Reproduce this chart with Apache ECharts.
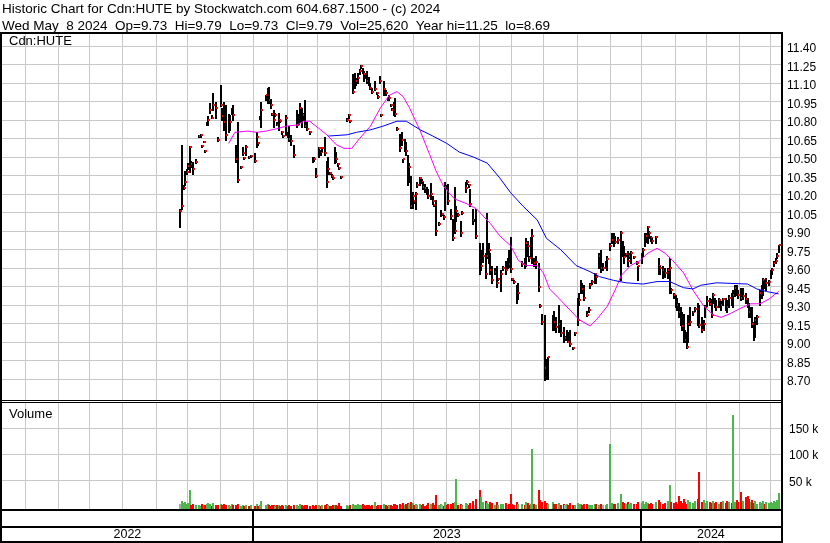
<!DOCTYPE html>
<html><head><meta charset="utf-8">
<script src="https://cdn.jsdelivr.net/npm/echarts@6/dist/echarts.min.js"></script>
<style>html,body{margin:0;padding:0;background:#fff}#c{width:830px;height:543px}</style>
</head><body><div id="c"></div>
<script>
// ---- data (trading-day index from the left edge of the chart) ----
const TOTAL_DAYS = 500;
const START = 114; // first trading day with data
const highs = [
10.08,10.60,10.27,10.39,10.40,10.45,10.59,10.47,10.46,null,
10.48,null,10.68,10.69,10.60,10.63,10.56,10.78,10.83,10.94,
10.84,11.02,null,10.95,10.66,null,11.08,10.90,10.95,10.92,
null,10.85,10.84,10.90,10.92,null,10.60,10.78,null,10.43,
10.58,10.50,10.60,null,10.51,10.52,null,null,10.53,10.70,
10.62,10.83,10.95,null,null,11.00,11.06,11.07,10.97,10.86,
10.88,10.86,10.78,10.86,10.80,10.71,10.68,null,10.84,10.70,
10.75,10.68,null,10.60,null,10.88,10.85,10.94,10.90,10.86,
10.96,10.78,null,10.71,null,10.50,10.50,10.41,null,10.58,
10.56,10.58,null,10.66,10.47,10.50,10.38,10.36,10.34,10.58,
10.54,10.45,10.42,10.35,null,null,null,10.82,10.85,10.80,
null,11.17,11.18,11.14,11.18,11.21,11.25,11.22,11.20,11.18,
11.20,11.15,11.10,11.06,null,11.12,11.03,11.00,11.16,10.85,
null,11.12,11.04,10.98,11.00,10.93,10.90,10.95,10.98,10.74,
null,10.69,10.70,10.48,10.65,10.62,10.52,10.45,10.35,10.22,
10.15,10.22,10.30,null,10.34,10.32,10.30,10.28,10.26,10.24,
null,10.29,10.18,10.12,10.15,null,9.97,10.07,10.05,10.03,
10.30,10.27,10.28,null,10.08,10.00,10.26,10.10,10.05,null,
9.98,10.06,null,10.30,10.31,10.28,10.24,null,10.08,10.00,
10.08,null,9.80,9.75,9.80,null,9.72,10.05,9.80,9.72,
9.62,null,9.60,9.62,9.52,null,9.58,9.62,null,9.66,
9.68,9.75,9.85,9.52,9.50,null,9.46,9.48,null,9.66,
null,9.68,9.84,9.82,9.70,9.85,9.92,9.68,9.70,null,
9.64,9.31,9.23,null,9.22,8.86,8.88,null,null,9.22,
9.25,9.20,null,9.30,9.18,null,9.12,9.05,9.10,9.08,
9.10,null,8.96,9.08,null,9.36,9.40,9.50,9.48,9.46,
null,9.25,9.28,9.48,9.50,null,9.56,9.54,null,9.72,
9.75,9.64,null,9.66,9.70,null,9.80,9.88,9.88,9.86,
null,9.85,null,9.90,9.82,9.78,9.72,9.74,9.72,9.74,
null,9.70,null,9.66,9.62,null,9.72,9.76,9.88,9.88,
9.94,9.90,9.86,9.84,null,9.86,null,9.68,9.62,null,
9.62,9.60,null,9.60,9.68,9.44,null,9.40,9.38,9.36,
9.32,9.28,9.24,9.23,9.10,9.08,9.22,9.28,null,9.25,
9.28,null,9.32,9.30,null,9.20,9.18,9.30,9.37,null,
9.36,9.35,9.40,9.36,9.34,null,9.36,9.33,9.36,null,
9.36,9.34,9.38,null,9.40,9.42,9.46,9.46,9.42,null,
9.44,9.44,null,9.40,9.36,9.32,9.28,9.28,9.16,9.20,
9.22,null,9.42,9.46,9.52,9.50,9.52,null,9.50,9.58,
9.60,9.66,9.68,9.72,9.79];
const lows = [
9.93,10.08,10.24,10.27,10.36,10.40,10.38,10.42,10.36,null,
10.45,null,10.66,10.66,10.58,10.62,10.54,10.76,10.76,10.86,
10.82,10.88,null,10.82,10.63,null,10.91,10.80,10.72,10.64,
null,10.70,10.72,10.85,10.80,null,10.46,10.30,null,10.41,
10.52,10.48,10.52,null,10.49,10.50,null,null,10.46,10.58,
10.60,10.81,10.74,null,null,10.96,10.94,10.94,10.90,10.84,
10.74,10.83,10.76,10.72,10.78,10.69,10.66,null,10.68,10.66,
10.63,10.60,null,10.50,null,10.74,10.77,10.78,10.74,10.80,
10.74,10.72,null,10.69,null,10.46,10.47,10.34,null,10.50,
10.52,10.55,null,10.52,10.26,10.36,10.36,10.34,10.32,10.45,
10.46,10.43,10.40,10.33,null,null,null,10.79,10.82,10.78,
null,11.02,11.06,11.08,11.10,11.17,11.22,11.18,11.12,11.14,
11.10,11.08,11.05,11.02,null,11.04,11.01,10.98,11.10,10.83,
null,11.00,11.00,10.96,10.96,10.91,10.88,10.84,10.83,10.72,
null,10.55,10.60,10.46,10.55,10.52,10.27,10.30,10.09,10.09,
10.13,10.08,10.26,null,10.27,10.29,10.24,10.22,10.20,10.17,
null,10.16,10.12,10.10,9.87,null,9.95,10.02,10.03,10.00,
10.07,10.24,10.12,null,10.00,9.83,9.88,9.98,10.02,null,
9.86,10.04,null,10.22,10.28,10.26,10.10,null,9.96,9.98,
9.84,null,9.55,9.58,9.65,null,9.52,9.68,9.64,9.55,
9.48,null,9.55,9.45,9.50,null,9.41,9.58,null,9.55,
9.60,9.61,9.57,9.50,9.48,null,9.32,9.35,null,9.62,
null,9.60,9.62,9.70,9.66,9.70,9.64,9.62,9.60,null,
9.41,9.28,9.15,null,8.69,8.70,8.70,null,null,9.10,
9.10,9.08,null,9.08,9.05,null,9.00,9.02,9.02,9.00,
8.97,null,8.94,9.06,null,9.14,9.30,9.40,9.40,9.34,
null,9.21,9.24,9.44,9.47,null,9.48,9.48,null,9.60,
9.57,9.58,null,9.60,9.58,null,9.75,9.80,9.78,9.80,
null,9.80,null,9.50,9.70,9.64,9.70,9.62,9.68,9.64,
null,9.68,null,9.63,9.50,null,9.64,9.70,9.78,9.81,
9.80,9.84,9.82,9.80,null,9.80,null,9.55,9.55,null,
9.52,9.53,null,9.52,9.40,9.40,null,9.36,9.28,9.26,
9.20,9.14,9.10,9.00,9.00,8.95,9.00,9.14,null,9.22,
9.25,null,9.14,9.12,null,9.08,9.10,9.20,9.29,null,
9.30,9.20,9.32,9.28,9.26,null,9.28,9.26,9.30,null,
9.26,9.24,9.28,null,9.30,9.28,9.37,9.38,9.36,null,
9.34,9.35,null,9.32,9.28,9.20,9.20,9.12,9.02,9.04,
9.15,null,9.30,9.36,9.38,9.44,9.42,null,9.46,9.52,
9.55,9.62,9.64,9.68,9.73];
const closes = [
10.06,10.10,10.25,10.30,10.38,10.43,10.58,10.44,10.40,null,
10.46,null,10.67,10.68,10.59,10.62,10.55,10.77,10.80,10.88,
10.82,10.92,null,10.90,10.64,null,10.92,10.83,10.78,10.68,
null,10.72,10.78,10.88,10.84,null,10.48,10.31,null,10.42,
10.53,10.49,10.58,null,10.50,10.51,null,null,10.47,10.66,
10.61,10.82,10.88,null,null,11.00,11.05,10.96,10.92,10.85,
10.80,10.84,10.76,10.80,10.79,10.70,10.67,null,10.82,10.67,
10.65,10.63,null,10.52,null,10.76,10.78,10.90,10.85,10.84,
10.75,10.73,null,10.70,null,10.49,10.48,10.35,null,10.57,
10.54,10.57,null,10.53,10.30,10.40,10.37,10.35,10.33,10.50,
10.48,10.44,10.41,10.34,null,null,null,10.80,10.84,10.79,
null,11.03,11.10,11.12,11.14,11.20,11.24,11.19,11.17,11.15,
11.12,11.09,11.06,11.03,null,11.05,11.02,10.99,11.12,10.84,
null,11.05,11.02,10.97,10.98,10.92,10.88,10.86,10.85,10.73,
null,10.57,10.64,10.48,10.58,10.55,10.30,10.42,10.10,10.18,
10.14,10.20,10.27,null,10.33,10.30,10.26,10.25,10.22,10.18,
null,10.20,10.14,10.11,9.90,null,9.96,10.04,10.04,10.01,
10.26,10.25,10.14,null,10.02,9.84,9.90,10.06,10.03,null,
9.88,10.05,null,10.25,10.30,10.27,10.12,null,9.99,9.99,
9.86,null,9.60,9.62,9.70,null,9.55,9.70,9.75,9.58,
9.50,null,9.57,9.48,9.51,null,9.55,9.60,null,9.58,
9.66,9.63,9.59,9.51,9.49,null,9.38,9.40,null,9.63,
null,9.62,9.80,9.78,9.68,9.72,9.86,9.64,9.65,null,
9.45,9.29,9.16,null,8.79,8.70,8.88,null,null,9.18,
9.16,9.12,null,9.15,9.07,null,9.03,9.03,9.05,9.00,
8.98,null,8.95,9.07,null,9.18,9.34,9.45,9.43,9.36,
null,9.22,9.26,9.46,9.49,null,9.55,9.53,null,9.70,
9.60,9.60,null,9.64,9.67,null,9.78,9.83,9.82,9.81,
null,9.83,null,9.88,9.72,9.69,9.71,9.66,9.70,9.72,
null,9.69,null,9.64,9.62,null,9.70,9.75,9.85,9.86,
9.93,9.88,9.84,9.82,null,9.85,null,9.62,9.60,null,
9.58,9.56,null,9.58,9.60,9.42,null,9.38,9.34,9.30,
9.24,9.18,9.13,9.06,9.02,8.96,9.15,9.16,null,9.24,
9.27,null,9.24,9.14,null,9.10,9.15,9.28,9.33,null,
9.31,9.22,9.38,9.30,9.28,null,9.34,9.30,9.35,null,
9.32,9.28,9.36,null,9.35,9.38,9.44,9.40,9.38,null,
9.36,9.37,null,9.35,9.30,9.24,9.26,9.15,9.05,9.18,
9.20,null,9.40,9.44,9.50,9.46,9.48,null,9.49,9.56,
9.58,9.64,9.66,9.70,9.79];
const volumeK = [
6,12,8,10,5,7,32,4,6,null,
3,null,4,2,5,3,4,6,8,5,
2,7,null,4,3,null,6,3,5,4,
null,3,2,5,4,null,3,6,null,2,
3,2,4,null,2,3,null,null,2,5,
2,4,11,null,null,3,6,4,2,3,
3,2,4,3,2,3,2,null,4,2,
3,2,null,4,null,3,2,5,3,2,
4,3,null,2,null,3,2,4,null,3,
2,3,null,4,5,3,2,2,3,4,
3,2,8,2,null,null,null,3,2,4,
null,5,4,3,6,3,4,5,3,2,
4,3,2,3,null,10,2,3,4,3,
null,5,3,2,4,3,2,5,6,4,
null,5,4,7,3,5,8,6,9,7,
3,5,4,null,6,3,5,2,4,7,
null,6,8,4,23,null,3,5,4,2,
9,4,6,null,5,7,10,53,3,null,
6,4,null,8,5,3,7,null,12,4,
15,null,32,18,9,null,12,8,6,10,
7,null,4,9,3,null,6,5,null,8,
4,6,25,5,3,null,10,6,null,5,
null,4,9,7,3,5,111,6,4,null,
32,14,10,null,12,8,6,null,null,9,
6,5,null,8,4,null,6,3,5,4,
7,null,3,4,null,8,6,5,4,6,
null,5,3,4,3,null,6,5,null,4,
5,3,null,4,5,null,120,8,6,5,
null,7,null,24,10,8,6,9,5,7,
null,5,null,6,9,null,8,12,6,10,
7,5,8,6,null,10,null,14,9,null,
6,8,null,12,41,10,null,7,9,6,
20,12,8,15,10,6,14,9,null,7,
11,null,16,67,null,9,14,8,12,null,
10,7,12,8,10,null,6,9,11,null,
7,12,9,null,8,175,10,14,9,null,
29,12,null,18,20,15,10,14,8,11,
6,null,10,8,12,6,9,null,7,10,
8,12,9,14,25.62];
const maShortDays = [145,149,157,163,169,176,182,189,193,197,201,208,214,219,224,229,236,242,248,253,257,261,268,274,278,283,290,298,304,313,319,326,331,336,343,347,351,358,364,370,377,381,388,393,397,403,409,414,420,425,430,437,443,450,456,461,467,473,480,486,492,498];
const maShort = [10.61,10.70,10.71,10.70,10.71,10.73,10.75,10.76,10.79,10.79,10.75,10.68,10.60,10.57,10.57,10.65,10.75,10.89,11.00,11.03,10.99,10.90,10.71,10.52,10.39,10.26,10.16,10.12,10.08,9.96,9.86,9.78,9.66,9.62,9.62,9.56,9.43,9.34,9.26,9.18,9.13,9.18,9.29,9.42,9.54,9.62,9.66,9.72,9.76,9.72,9.66,9.56,9.42,9.29,9.22,9.20,9.23,9.27,9.31,9.31,9.35,9.41];
const maLongDays = [209,221,227,236,244,253,259,268,276,285,293,302,311,319,326,334,343,349,358,368,377,383,392,400,411,420,428,437,443,448,458,478,484,490,498];
const maLong = [10.67,10.68,10.70,10.72,10.75,10.79,10.79,10.72,10.67,10.61,10.54,10.50,10.45,10.33,10.21,10.10,9.99,9.84,9.75,9.62,9.57,9.53,9.50,9.48,9.47,9.49,9.49,9.44,9.43,9.46,9.48,9.47,9.43,9.41,9.39];
const monthStarts = [15,36,56,77,99,119,140,161,183,202,223,243,264,285,306,327,347,369,390,410,432,452,473,493];
const yearStarts = [0,161,410];
const yearLabels = ['2022','2023','2024'];
const priceMin = 8.70, priceMax = 11.40, priceStep = 0.15;
const volMax = 150, volStep = 50;
const titleLine1 = 'Historic Chart for Cdn:HUTE by Stockwatch.com 604.687.1500 - (c) 2024';
const titleLine2 = 'Wed May  8 2024  Op=9.73  Hi=9.79  Lo=9.73  Cl=9.79  Vol=25,620  Year hi=11.25  lo=8.69';

// ---- build ----
const FF = "'Liberation Sans', Arial, sans-serif";
const hlcData = [], volData = [];
let prev = null;
for (let k = 0; k < highs.length; k++) {
  const d = START + k + 0.5;
  if (highs[k] != null) hlcData.push([d, highs[k], lows[k], closes[k]]);
  if (volumeK[k] != null && closes[k] != null) {
    const dir = prev == null ? 0 : (closes[k] > prev ? 1 : (closes[k] < prev ? -1 : 0));
    volData.push([d, volumeK[k], dir]);
  }
  if (closes[k] != null) prev = closes[k];
}
const maShortData = maShortDays.map((d, i) => [d + 0.5, maShort[i]]);
const maLongData = maLongDays.map((d, i) => [d + 0.5, maLong[i]]);
const yearData = yearStarts.map((s, i) => [s, i < yearStarts.length - 1 ? yearStarts[i + 1] : TOTAL_DAYS, i]);

function vline(color, width) {
  return function (params, api) {
    const cs = params.coordSys;
    const x = api.coord([api.value(0), 0])[0];
    const px = (width % 2) ? Math.round(x) + 0.5 : Math.round(x);
    return { type: 'line', shape: { x1: px, y1: cs.y, x2: px, y2: cs.y + cs.height },
      style: { stroke: color, lineWidth: width } };
  };
}
function renderHLC(params, api) {
  const d = api.value(0), h = api.value(1), l = api.value(2), c = api.value(3);
  const pt = api.coord([d, h]), pb = api.coord([d, l]), pc = api.coord([d, c]);
  const cx = Math.round(pt[0]);
  const y1 = Math.round(pt[1]), y2 = Math.round(pb[1]);
  return { type: 'group', children: [
    { type: 'rect', shape: { x: cx - 1, y: y1, width: 2, height: Math.max(1, y2 - y1 + 1) }, style: { fill: '#000' } },
    { type: 'rect', shape: { x: cx, y: Math.round(pc[1]) - 1, width: 2, height: 2 }, style: { fill: '#ff0000' } }
  ]};
}
function renderVol(params, api) {
  const d = api.value(0), v = api.value(1), dir = api.value(2);
  const pt = api.coord([d, v]), pb = api.coord([d, 0]);
  const cx = Math.round(pt[0]);
  const y1 = Math.round(pt[1]), y2 = Math.round(pb[1]) + 2;
  const col = dir > 0 ? '#4cb84c' : (dir < 0 ? '#ff0000' : '#a8a8a8');
  return { type: 'rect', shape: { x: cx - 1, y: y1, width: 2, height: Math.max(1, y2 - y1) }, style: { fill: col } };
}
function renderYear(params, api) {
  const s = api.value(0), e = api.value(1), idx = api.value(2);
  const p = api.coord([(s + e) / 2, 0.2]);
  return { type: 'text', x: p[0], y: p[1], style: { text: yearLabels[idx], fill: '#000',
    font: "12.5px " + FF, align: 'center', verticalAlign: 'middle' } };
}

const L = 2, W = 779;
const gridDefs = [
  { top: 34, height: 366 },   // price frame (month lines)
  { top: 46, height: 333 },   // price scale
  { top: 403, height: 106 },  // volume frame
  { top: 428.3, height: 78.6 }, // volume scale
  { top: 511, height: 30 }    // year rows
];
const grid = gridDefs.map(g => ({ left: L, width: W, top: g.top, height: g.height, show: false, outerBoundsMode: 'none' }));
const xAxis = gridDefs.map((g, i) => ({ type: 'value', gridIndex: i, min: 0, max: TOTAL_DAYS, show: false }));
const hidY = i => ({ type: 'value', gridIndex: i, min: 0, max: 1, show: false });
const yAxis = [
  hidY(0),
  { type: 'value', gridIndex: 1, position: 'right', min: priceMin, max: priceMax, interval: priceStep,
    axisLine: { show: false }, axisTick: { show: false },
    splitLine: { show: true, lineStyle: { color: '#c8c8c8', width: 1 } },
    axisLabel: { margin: 6, formatter: v => '{p|' + v.toFixed(2) + '}',
      rich: { p: { fontSize: 12, fontFamily: FF, color: '#000', padding: [6, 0, 0, 0] } } } },
  hidY(2),
  { type: 'value', gridIndex: 3, position: 'right', min: 0, max: volMax, interval: volStep,
    axisLine: { show: false }, axisTick: { show: false },
    splitLine: { show: true, showMinLine: false, lineStyle: { color: '#c8c8c8', width: 1 } },
    axisLabel: { margin: 8, formatter: v => v === 0 ? '' : '{p|' + v + ' k}',
      rich: { p: { fontSize: 12, fontFamily: FF, color: '#000', padding: [3, 0, 0, 0] } } } },
  hidY(4)
];
const monthData = monthStarts.map(b => [b, 0]);
const series = [
  { type: 'custom', xAxisIndex: 0, yAxisIndex: 0, data: monthData, renderItem: vline('#c8c8c8', 1), silent: true, z: 1 },
  { type: 'custom', xAxisIndex: 2, yAxisIndex: 2, data: monthData, renderItem: vline('#c8c8c8', 1), silent: true, z: 1 },
  { type: 'custom', xAxisIndex: 1, yAxisIndex: 1, data: hlcData, renderItem: renderHLC, clip: false, silent: true, z: 3,
    encode: { x: 0, y: [1, 2, 3] } },
  { type: 'line', xAxisIndex: 1, yAxisIndex: 1, data: maShortData, showSymbol: false, silent: true, z: 4,
    lineStyle: { color: '#ff00ff', width: 1 } },
  { type: 'line', xAxisIndex: 1, yAxisIndex: 1, data: maLongData, showSymbol: false, silent: true, z: 4,
    lineStyle: { color: '#0000ff', width: 1 } },
  { type: 'custom', xAxisIndex: 3, yAxisIndex: 3, data: volData, renderItem: renderVol, clip: false, silent: true, z: 3,
    encode: { x: 0, y: 1 } },
  { type: 'custom', xAxisIndex: 4, yAxisIndex: 4, data: yearStarts.slice(1).map(b => [b, 0]), renderItem: vline('#000', 2), silent: true, z: 5 },
  { type: 'custom', xAxisIndex: 4, yAxisIndex: 4, data: yearData, renderItem: renderYear, silent: true, z: 5,
    encode: { x: [0, 1] } }
];
const blk = (x, y, w, h) => ({ type: 'rect', shape: { x, y, width: w, height: h }, style: { fill: '#000' }, z: 100, silent: true });
const txt = (x, y, t, size) => ({ type: 'text', x, y, z: 100, silent: true,
  style: { text: t, fill: '#000', font: size + 'px ' + FF, align: 'left', verticalAlign: 'middle' } });
const graphic = [
  blk(0, 32, 783, 2), blk(0, 32, 2, 511), blk(781, 32, 2, 511),
  blk(0, 400, 783, 1), blk(0, 402, 783, 1),
  blk(0, 509, 783, 2), blk(0, 526, 783, 2), blk(0, 541, 783, 2),
  txt(2, 9, titleLine1, 13.5), txt(2, 26, titleLine2, 13.5),
  txt(9, 41, 'Cdn:HUTE', 13), txt(9, 414, 'Volume', 13)
];
const chart = echarts.init(document.getElementById('c'));
chart.setOption({ animation: false, backgroundColor: '#fff', grid, xAxis, yAxis, series, graphic });
</script></body></html>
